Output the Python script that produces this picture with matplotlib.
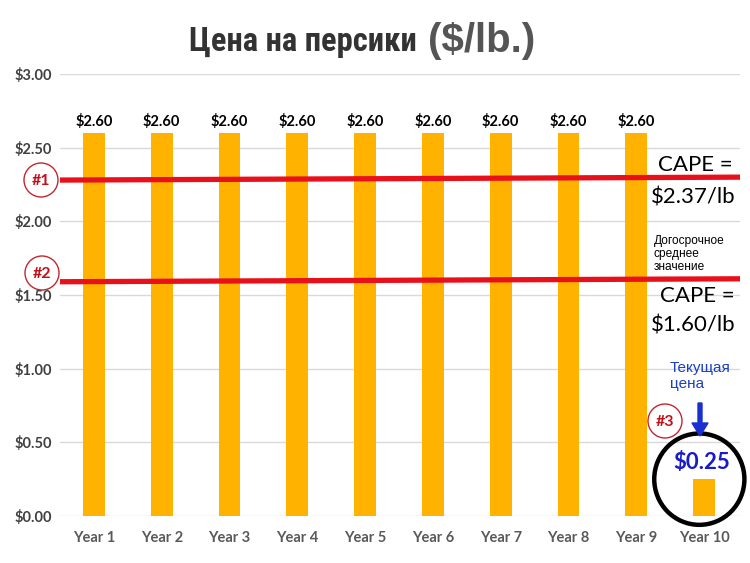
import matplotlib
matplotlib.use("Agg")
import matplotlib.pyplot as plt
from matplotlib.patches import Ellipse, Circle, FancyArrow
from matplotlib import font_manager as fm

categories = ["Year 1", "Year 2", "Year 3", "Year 4", "Year 5",
              "Year 6", "Year 7", "Year 8", "Year 9", "Year 10"]
prices = [2.60, 2.60, 2.60, 2.60, 2.60, 2.60, 2.60, 2.60, 2.60, 0.25]
bar_labels = ["$2.60"] * 9
current_label = "$0.25"
cape_1 = [2.28, 2.30]   # line #1 (left, right)
cape_2 = [1.59, 1.61]   # line #2 (left, right)
yticks = [0.0, 0.5, 1.0, 1.5, 2.0, 2.5, 3.0]
ytick_labels = ["$0.00", "$0.50", "$1.00", "$1.50", "$2.00", "$2.50", "$3.00"]

names = {f.name for f in fm.fontManager.ttflist}
if "Liberation Sans Narrow" in names:
    narrow = "Liberation Sans Narrow"
elif "DejaVu Sans Condensed" in names:
    narrow = "DejaVu Sans Condensed"
else:
    narrow = "Roboto Condensed" if "Roboto Condensed" in names else "Liberation Sans"
LAB = "Lato"

fig = plt.figure(figsize=(7.5, 5.63), dpi=100)
ax = fig.add_axes([60/750, 1-516/563, 680/750, (516-74)/563])
x = list(range(len(categories)))
ax.bar(x, prices, width=0.32, color="#FFB300", zorder=2)
ax.set_xlim(-0.5, 9.53)
ax.set_ylim(0, 3.0)
ax.set_yticks(yticks)
ax.set_yticklabels(ytick_labels, fontfamily=LAB, fontweight="bold",
                   fontsize=10.5, color="#404040")
ax.set_xticks(x)
ax.set_xticklabels(categories, fontfamily=LAB, fontweight="bold",
                   fontsize=10.5, color="#595959")
ax.tick_params(length=0, pad=6)
ax.tick_params(axis="x", pad=11)
ax.grid(axis="y", color="#d9d9d9", lw=1, zorder=0)
for s in ax.spines.values():
    s.set_visible(False)

for i, lab in enumerate(bar_labels):
    ax.text(x[i], prices[i] + 0.025, lab, ha="center", va="bottom",
            fontfamily=LAB, fontweight="bold", fontsize=10.5, color="black")

# CAPE lines
xl = ax.get_xlim()
ax.plot(xl, cape_1, color="#E8101A", lw=3.8, zorder=3, solid_capstyle="butt")
ax.plot(xl, cape_2, color="#E8101A", lw=3.8, zorder=3, solid_capstyle="butt")

# current price label and circle
ax.text(x[9] - 0.03, 0.25 + 0.11, current_label, ha="center", va="center",
        fontfamily=LAB, fontweight="bold", fontsize=16, color="#1A1AC8", zorder=5)
ax.add_patch(Ellipse((x[9] - 0.07, 0.25), 1.33, 0.62, fill=False, ec="black",
                     lw=3.2, clip_on=False, zorder=4))

# overlay axes in pixel coordinates for annotations
ov = fig.add_axes([0, 0, 1, 1], facecolor="none")
ov.set_xlim(0, 750)
ov.set_ylim(563, 0)
ov.axis("off")

fig.text(424/750, 1-51/563, "Цена на персики ", ha="right", va="baseline",
         fontfamily=narrow, fontweight="bold", fontsize=23.5, color="#333333")
fig.text(428/750, 1-52/563, "($/lb.)", ha="left", va="baseline",
         fontfamily="Liberation Sans", fontweight="bold", fontsize=29, color="#555555")

for (cx, cy, t) in [(41, 180, "#1"), (42, 273, "#2"), (665, 421, "#3")]:
    ov.add_patch(Circle((cx, cy), 17, fc="white", ec="#C0282D", lw=1.0, zorder=5))
    ov.text(cx, cy + 1, t, ha="center", va="center", fontfamily=LAB,
            fontweight="bold", fontsize=11.5, color="#C0101A", zorder=6)

ov.text(695, 165, "CAPE =", ha="center", va="center", fontfamily=LAB,
        fontsize=16, color="black")
ov.text(693, 197, "$2.37/lb", ha="center", va="center", fontfamily=LAB,
        fontsize=16, color="black")
ov.text(697, 296, "CAPE =", ha="center", va="center", fontfamily=LAB,
        fontsize=16, color="black")
ov.text(693, 325, "$1.60/lb", ha="center", va="center", fontfamily=LAB,
        fontsize=16, color="black")
ov.text(654, 254, "Догосрочное\nсреднее\nзначение", ha="left", va="center",
        fontfamily="Liberation Sans", fontsize=8.6, color="black", linespacing=1.1)
ov.text(670, 376, "Текущая\nцена", ha="left", va="center",
        fontfamily="Liberation Sans", fontsize=11, color="#1A3FBF", linespacing=1.1)
ov.add_patch(FancyArrow(700, 403, 0, 33, width=4, head_width=16, head_length=13,
                        length_includes_head=True, color="#1A2FD0", zorder=6))

fig.savefig("out.png", dpi=100)
